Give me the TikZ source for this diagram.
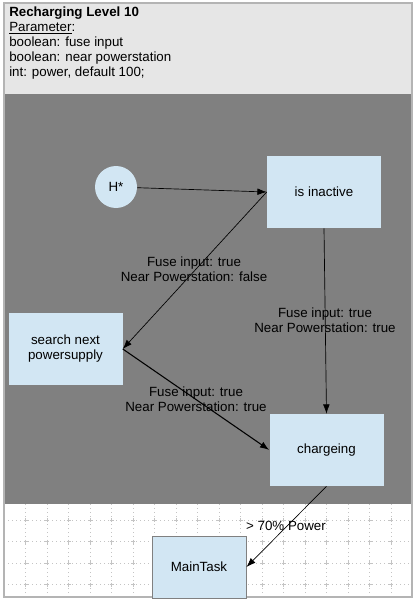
\documentclass[tikz,border=0pt]{standalone}
\usepackage{fontspec}
\setmainfont{Liberation Sans}
\usetikzlibrary{arrows.meta}
\definecolor{darkbg}{HTML}{808080}
\definecolor{headbg}{HTML}{E6E6E6}
\definecolor{statefill}{HTML}{D2E6F3}
\definecolor{framegray}{HTML}{B4B4B4}
\definecolor{gridgray}{HTML}{C4C4C4}

\begin{document}
\begin{tikzpicture}[x=0.75pt,y=-0.75pt,
		every node/.style={font=\fontsize{10}{11.2}\selectfont},
		state/.style={fill=statefill,minimum width=85.5pt,minimum height=54pt,inner sep=0pt,align=center},
		trans/.style={draw=black,line width=0.5pt,-{Latex[length=7pt,width=5pt]}},
		cond/.style={align=center,inner sep=0pt},
		gridline/.style={gridgray,line width=0.6pt,dash pattern=on 0.6pt off 2.4pt}]
			\useasboundingbox (0,0) rectangle (415,599);
			% background areas
			\fill[headbg] (4,3) rectangle (412,94);
			\fill[darkbg] (4,94) rectangle (412,504);
			\begin{scope}
				\clip (4,504) rectangle (412,597);
				\foreach \gx in {1,...,19}
					\draw[gridline] (4+21.5*\gx,504) -- (4+21.5*\gx,597);
				\foreach \gy in {24,...,27}
					\draw[gridline] (4,4+21.5*\gy) -- (412,4+21.5*\gy);
				\foreach \gx in {1,...,19}
					\foreach \gy in {24,...,27}
						\draw[gridgray,line width=0.6pt] (4+21.5*\gx-2,4+21.5*\gy) -- ++(4,0) (4+21.5*\gx,4+21.5*\gy-2) -- ++(0,4);
			\end{scope}
			\draw[framegray,line width=0.9pt] (4,3) rectangle (412,597);
			
			% header
			\node[anchor=north west,align=left,inner sep=0pt] (header) at (9,6.5) {\textbf{Recharging Level 10}\\\underline{Parameter}:\\boolean: fuse input\\boolean: near powerstation\\int: power, default 100;};
			
			% states
			\node[circle,fill=statefill,minimum size=31.5pt,inner sep=0pt] (hstar) at (116,187) {H*};
			\node[state] (inactive) at (324,192) {is inactive};
			\node[state] (search) at (65.5,349) {search next\\powersupply};
			\node[state] (charge) at (326.5,450) {chargeing};
			\node[state,draw=darkbg,line width=0.75pt,minimum width=70.5pt,minimum height=46.5pt] (maintask) at (199,567) {MainTask};
			
			% transitions
			\draw[trans] (hstar) -- (inactive.west);
			\draw[trans] (inactive.west) -- (search.east);
			\draw[trans] (inactive.south) -- (charge.north);
			\draw[trans,line width=0.8pt] (search.east) -- (charge.west);
			\draw[trans] (charge.south) -- (maintask.east);
			
			% conditions
			\node[cond] (condfalse) at (194,269) {Fuse input: true\\Near Powerstation: false};
			\node[cond] (condright) at (325,320) {Fuse input: true\\Near Powerstation: true};
			\node[cond] (condleft) at (196,399) {Fuse input: true\\Near Powerstation: true};
			\node[cond] (condpower) at (286,526) {> 70\% Power};
		\end{tikzpicture}
\end{document}
